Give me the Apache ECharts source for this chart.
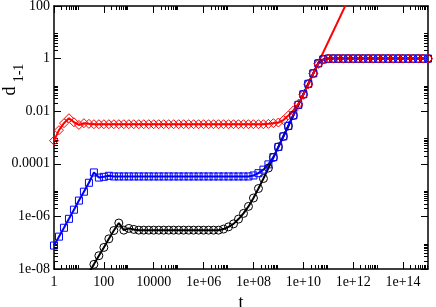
<!DOCTYPE html>
<html>
<head>
<meta charset="utf-8">
<script src="https://cdn.jsdelivr.net/npm/echarts@6/dist/echarts.min.js"></script>
<style>
html,body{margin:0;padding:0;background:#fff;}
#chart{width:436px;height:307px;}
</style>
</head>
<body>
<div id="chart"></div>
<script>
// time grid (log spaced, 5 points per decade)
const tGrid = [
  1, 1.585, 2.512, 3.981, 6.31,
  10, 15.85, 25.12, 39.81, 63.1,
  100, 158.5, 251.2, 398.1, 631,
  1e3, 1.585e3, 2.512e3, 3.981e3, 6.31e3,
  1e4, 1.585e4, 2.512e4, 3.981e4, 6.31e4,
  1e5, 1.585e5, 2.512e5, 3.981e5, 6.31e5,
  1e6, 1.585e6, 2.512e6, 3.981e6, 6.31e6,
  1e7, 1.585e7, 2.512e7, 3.981e7, 6.31e7,
  1e8, 1.585e8, 2.512e8, 3.981e8, 6.31e8,
  1e9, 1.585e9, 2.512e9, 3.981e9, 6.31e9,
  1e10, 1.585e10, 2.512e10, 3.981e10, 6.31e10,
  1e11, 1.585e11, 2.512e11, 3.981e11, 6.31e11,
  1e12, 1.585e12, 2.512e12, 3.981e12, 6.31e12,
  1e13, 1.585e13, 2.512e13, 3.981e13, 6.31e13,
  1e14, 1.585e14, 2.512e14, 3.981e14, 6.31e14,
  1e15
];

// red diamonds
const redValues = [
  7.6e-4, 1.9e-3, 3.5e-3, 5.4e-3, 3.8e-3,
  3.0e-3, 3.5e-3, 3.3e-3, 3.2e-3, 3.2e-3,
  3.2e-3, 3.2e-3, 3.2e-3, 3.2e-3, 3.2e-3,
  3.2e-3, 3.2e-3, 3.2e-3, 3.2e-3, 3.2e-3,
  3.2e-3, 3.2e-3, 3.2e-3, 3.2e-3, 3.2e-3,
  3.2e-3, 3.2e-3, 3.2e-3, 3.2e-3, 3.2e-3,
  3.2e-3, 3.2e-3, 3.2e-3, 3.2e-3, 3.2e-3,
  3.2e-3, 3.2e-3, 3.2e-3, 3.2e-3, 3.2e-3,
  3.2e-3, 3.2e-3, 3.2e-3, 3.3e-3, 3.5e-3,
  3.7e-3, 4.6e-3, 6.9e-3, 1.07e-2, 1.9e-2,
  4.2e-2, 0.105, 0.27, 0.63, 0.93,
  1, 1, 1, 1, 1,
  1, 1, 1, 1, 1,
  1, 1, 1, 1, 1,
  1, 1, 1, 1, 1,
  1
];

// blue squares
const blueValues = [
  7.8e-8, 1.7e-7, 3.7e-7, 8.1e-7, 1.8e-6,
  4.0e-6, 8.7e-6, 1.9e-5, 4.7e-5, 3.0e-5,
  3.2e-5, 3.5e-5, 3.3e-5, 3.3e-5, 3.3e-5,
  3.3e-5, 3.3e-5, 3.3e-5, 3.3e-5, 3.3e-5,
  3.3e-5, 3.3e-5, 3.3e-5, 3.3e-5, 3.3e-5,
  3.3e-5, 3.3e-5, 3.3e-5, 3.3e-5, 3.3e-5,
  3.3e-5, 3.3e-5, 3.3e-5, 3.3e-5, 3.3e-5,
  3.3e-5, 3.3e-5, 3.3e-5, 3.3e-5, 3.3e-5,
  3.6e-5, 4.4e-5, 6.0e-5, 9.5e-5, 1.8e-4,
  4.4e-4, 1.1e-3, 2.75e-3, 6.9e-3, 1.74e-2,
  4.4e-2, 0.11, 0.275, 0.66, 0.93,
  1, 1, 1, 1, 1,
  1, 1, 1, 1, 1,
  1, 1, 1, 1, 1,
  1, 1, 1, 1, 1,
  1
];

// black circles
const blackValues = [
  null, null, null, null, null,
  null, null, 7.2e-9, 1.5e-8, 3.2e-8,
  6.6e-8, 1.4e-7, 2.9e-7, 5.6e-7, 3.0e-7,
  3.5e-7, 3.2e-7, 3.0e-7, 3.0e-7, 3.0e-7,
  3.0e-7, 3.0e-7, 3.0e-7, 3.0e-7, 3.0e-7,
  3.0e-7, 3.0e-7, 3.0e-7, 3.0e-7, 3.0e-7,
  3.0e-7, 3.0e-7, 3.0e-7, 3.0e-7, 3.3e-7,
  4.0e-7, 5.2e-7, 7.9e-7, 1.3e-6, 2.4e-6,
  5.0e-6, 1.15e-5, 2.75e-5, 6.9e-5, 1.74e-4,
  4.4e-4, 1.1e-3, 2.75e-3, 6.9e-3, 1.74e-2,
  4.4e-2, 0.11, 0.275, 0.66, 0.93,
  1, 1, 1, 1, 1,
  1, 1, 1, 1, 1,
  1, 1, 1, 1, 1,
  1, 1, 1, 1, 1,
  1
];

// straight red power-law line (~t^2)
const fitT = [1e9, 1e12];
const fitD = [4.4e-4, 437];

// tick labels
const xTickValues = [1, 100, 1e4, 1e6, 1e8, 1e10, 1e12, 1e14];
const xTickLabels = ['1', '100', '10000', '1e+06', '1e+08', '1e+10', '1e+12', '1e+14'];
const yTickValues = [1e-8, 1e-6, 1e-4, 1e-2, 1, 100];
const yTickLabels = ['1e-08', '1e-06', '0.0001', '0.01', '1', '100'];

const minorMult = [2, 3, 4, 5, 6, 7, 8, 9];
const xMinor = [];
xTickValues.forEach(v => minorMult.forEach(m => { if (v * m < 1e15) xMinor.push(v * m); }));
const yMinor = [];
yTickValues.forEach(v => minorMult.forEach(m => { if (v * m < 100) yMinor.push(v * m); }));

function pairs(xs, ys) {
  const out = [];
  for (let i = 0; i < xs.length; i++) if (ys[i] != null) out.push([xs[i], ys[i]]);
  return out;
}
function fmt(values, labels) {
  return function (v) {
    const i = values.findIndex(t => Math.abs(Math.log10(t) - Math.log10(v)) < 1e-6);
    return i >= 0 ? labels[i] : '';
  };
}

const FONT = 'Liberation Serif';
const lineBlack = { color: '#000', width: 1.5 };

function xAx(pos, major, showLine, withLabel) {
  const o = {
    type: 'log', logBase: 10, min: 1, max: 1e15, position: pos, gridIndex: 0,
    axisLine: { show: showLine, onZero: false, lineStyle: lineBlack },
    axisTick: { show: true, inside: true, length: major ? 7 : 4,
      customValues: major ? xTickValues : xMinor, lineStyle: { color: '#000', width: 1 } },
    axisLabel: { show: withLabel },
    splitLine: { show: false }, minorTick: { show: false }, axisPointer: { show: false }
  };
  if (withLabel) {
    o.axisLabel = { show: true, customValues: xTickValues, formatter: fmt(xTickValues, xTickLabels),
      margin: 6, fontFamily: FONT, fontSize: 14, color: '#000' };
    o.name = 't';
    o.nameLocation = 'middle';
    o.nameGap = 22;
    o.nameTextStyle = { fontFamily: FONT, fontSize: 18, color: '#000' };
  }
  return o;
}
function yAx(pos, major, showLine, withLabel) {
  const o = {
    type: 'log', logBase: 10, min: 1e-8, max: 100, position: pos, gridIndex: 0,
    axisLine: { show: showLine, onZero: false, lineStyle: lineBlack },
    axisTick: { show: true, inside: true, length: major ? 7 : 4,
      customValues: major ? yTickValues : yMinor, lineStyle: { color: '#000', width: 1 } },
    axisLabel: { show: withLabel },
    splitLine: { show: false }, minorTick: { show: false }, axisPointer: { show: false }
  };
  if (withLabel) {
    o.axisLabel = { show: true, customValues: yTickValues, formatter: fmt(yTickValues, yTickLabels),
      margin: 4, fontFamily: FONT, fontSize: 14, color: '#000' };
  }
  return o;
}

function markerSeries(name, vals, symbol, color, size) {
  return {
    name: name, type: 'line', xAxisIndex: 0, yAxisIndex: 0,
    data: pairs(tGrid, vals),
    symbol: symbol, symbolSize: size, showSymbol: true, showAllSymbol: true,
    itemStyle: { color: 'rgba(0,0,0,0)', borderColor: color, borderWidth: 1 },
    lineStyle: { color: color, width: 2 },
    clip: true, silent: true, emphasis: { disabled: true }
  };
}

const chart = echarts.init(document.getElementById('chart'), null, { renderer: 'canvas' });
chart.setOption({
  animation: false,
  backgroundColor: '#fff',
  grid: { left: 54, right: 8, top: 6, bottom: 38, containLabel: false, outerBoundsMode: 'none' },
  xAxis: [xAx('bottom', true, true, true), xAx('bottom', false, false, false),
          xAx('top', true, true, false), xAx('top', false, false, false)],
  yAxis: [yAx('left', true, true, true), yAx('left', false, false, false),
          yAx('right', true, true, false), yAx('right', false, false, false)],
  graphic: [
    { type: 'text', x: 10, y: 91, rotation: Math.PI / 2, silent: true,
      style: { text: 'd', font: '18px "Liberation Serif"', fill: '#000', align: 'center', verticalAlign: 'middle' } },
    { type: 'text', x: 19, y: 73, rotation: Math.PI / 2, silent: true,
      style: { text: '1-1', font: '14px "Liberation Serif"', fill: '#000', align: 'center', verticalAlign: 'middle' } }
  ],
  series: [
    { name: 'fit', type: 'line', xAxisIndex: 0, yAxisIndex: 0, data: pairs(fitT, fitD),
      symbol: 'none', lineStyle: { color: '#ff0000', width: 2 }, clip: true, silent: true },
    markerSeries('black', blackValues, 'circle', '#000000', 8),
    markerSeries('blue', blueValues, 'rect', '#0000ff', 7),
    markerSeries('red', redValues, 'diamond', '#ff0000', 9)
  ]
});
</script>
</body>
</html>
